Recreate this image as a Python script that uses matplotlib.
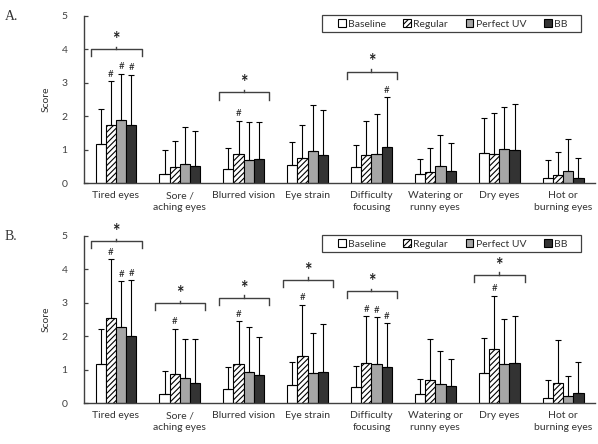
import matplotlib
matplotlib.use("Agg")
import matplotlib.pyplot as plt
from matplotlib.patches import Patch, Rectangle
import numpy as np

plt.rcParams['font.family'] = ['Lato', 'DejaVu Sans']
plt.rcParams['hatch.linewidth'] = 0.8

categories = ["Tired eyes", "Sore /\naching eyes", "Blurred vision", "Eye strain",
              "Difficulty\nfocusing", "Watering or\nrunny eyes", "Dry eyes", "Hot or\nburning eyes"]
series = ["Baseline", "Regular", "Perfect UV", "BB"]

# Panel A means and upper error-bar tops
A_mean = {
    "Baseline":   [1.17, 0.28, 0.42, 0.53, 0.49, 0.26, 0.91, 0.14],
    "Regular":    [1.74, 0.47, 0.87, 0.74, 0.84, 0.34, 0.87, 0.24],
    "Perfect UV": [1.90, 0.56, 0.69, 0.96, 0.87, 0.51, 1.03, 0.37],
    "BB":         [1.74, 0.51, 0.72, 0.84, 1.07, 0.37, 0.99, 0.16],
}
A_top = {
    "Baseline":   [2.22, 0.98, 1.06, 1.24, 1.13, 0.73, 1.94, 0.69],
    "Regular":    [3.05, 1.27, 1.87, 1.74, 1.85, 1.05, 2.11, 0.92],
    "Perfect UV": [3.27, 1.67, 1.84, 2.33, 2.07, 1.44, 2.27, 1.33],
    "BB":         [3.24, 1.57, 1.83, 2.19, 2.56, 1.21, 2.36, 0.75],
}
# Panel B
B_mean = {
    "Baseline":   [1.17, 0.28, 0.42, 0.53, 0.49, 0.26, 0.91, 0.14],
    "Regular":    [2.55, 0.86, 1.17, 1.40, 1.20, 0.70, 1.61, 0.60],
    "Perfect UV": [2.27, 0.74, 0.93, 0.89, 1.16, 0.56, 1.16, 0.20],
    "BB":         [2.02, 0.61, 0.84, 0.93, 1.07, 0.51, 1.21, 0.31],
}
B_top = {
    "Baseline":   [2.22, 0.97, 1.07, 1.24, 1.12, 0.73, 1.94, 0.69],
    "Regular":    [4.31, 2.23, 2.45, 2.94, 2.60, 1.91, 3.21, 1.89],
    "Perfect UV": [3.64, 1.91, 2.29, 2.10, 2.56, 1.57, 2.52, 0.82],
    "BB":         [3.67, 1.93, 1.97, 2.36, 2.39, 1.33, 2.61, 1.22],
}
# '#' markers: (category index, series name)
A_hash = [(0, "Regular"), (0, "Perfect UV"), (0, "BB"), (2, "Regular"), (4, "BB")]
B_hash = [(0, "Regular"), (0, "Perfect UV"), (0, "BB"), (1, "Regular"), (2, "Regular"),
          (3, "Regular"), (4, "Regular"), (4, "Perfect UV"), (4, "BB"), (6, "Regular")]
# '*' brackets: (category index, bracket height)
A_brackets = [(0, 4.0), (2, 2.71), (4, 3.33)]
B_brackets = [(0, 4.84), (1, 2.98), (2, 3.14), (3, 3.68), (4, 3.34), (6, 3.83)]

face = {"Baseline": "white", "Regular": "white", "Perfect UV": "#a6a6a6", "BB": "#333333"}
hatch = {"Baseline": None, "Regular": "//////", "Perfect UV": None, "BB": None}
axcol = "#404040"

fig = plt.figure(figsize=(5.98, 4.44), dpi=100)
axA = fig.add_axes([0.1405, 0.5878, 0.8545, 0.3762])
axB = fig.add_axes([0.1405, 0.0923, 0.8545, 0.3762])

w = 0.16
x = np.arange(len(categories))
offs = {s: (i - 1.5) * w for i, s in enumerate(series)}

def draw(ax, mean, top, hashes, brackets, label, label_y):
    for s in series:
        m = np.array(mean[s]); t = np.array(top[s])
        ax.bar(x + offs[s], m, w, color=face[s], edgecolor="black", linewidth=0.8,
               hatch=hatch[s], zorder=2)
        ax.errorbar(x + offs[s], m, yerr=[np.zeros_like(m), t - m], fmt="none",
                    ecolor="black", elinewidth=0.8, capsize=2, capthick=0.8, zorder=3)
    for ci, s in hashes:
        ax.text(ci + offs[s], top[s][ci] + 0.07, "#", ha="center", va="bottom",
                fontsize=7, color="#222222", clip_on=False)
    for ci, h in brackets:
        l, r = ci - 0.39, ci + 0.40
        ax.plot([l, l, r, r], [h - 0.21, h, h, h - 0.21], color=axcol, lw=1.0,
                clip_on=False, zorder=4)
        ax.plot([ci, ci], [h, h + 0.08], color=axcol, lw=1.0, clip_on=False)
        ax.text(ci, h + 0.04, "*", ha="center", va="bottom", fontsize=13,
                fontweight="bold", color="#222222", clip_on=False)
    ax.set_xlim(-0.5, len(categories) - 0.5)
    ax.set_ylim(0, 5)
    ax.set_yticks([0, 1, 2, 3, 4, 5])
    ax.set_xticks(x)
    ax.set_xticklabels(categories, fontsize=7.5, color="#333333", linespacing=1.35)
    ax.tick_params(axis="x", length=0, pad=6)
    ax.tick_params(axis="y", direction="in", length=3, width=0.9, colors=axcol,
                   labelsize=7.5, labelcolor="#404040", pad=12)
    for sp in ["top", "right"]:
        ax.spines[sp].set_visible(False)
    for sp in ["left", "bottom"]:
        ax.spines[sp].set_color(axcol)
        ax.spines[sp].set_linewidth(1.0)
    ax.set_ylabel("Score", fontsize=7.5, color="#333333", labelpad=8)
    handles = [Patch(facecolor=face[s], edgecolor="black", hatch=hatch[s], linewidth=0.8)
               for s in series]
    leg = ax.legend(handles, series, ncol=4, loc="center",
                    bbox_to_anchor=(0.721, 0.953), fontsize=7.5, frameon=False,
                    handlelength=0.75, handleheight=0.75,
                    handletextpad=0.2, columnspacing=1.7, borderpad=0.0,
                    borderaxespad=0)
    for t in leg.get_texts():
        t.set_color("#333333")
    ax.add_patch(Rectangle((0.466, 0.902), 0.507, 0.104, transform=ax.transAxes,
                           facecolor="white", edgecolor=axcol, linewidth=0.9,
                           clip_on=False, zorder=5))
    leg.set_zorder(6)
    fig.text(0.008, label_y, label, fontsize=10,
             family="Liberation Serif", color="#333333", va="center")

draw(axA, A_mean, A_top, A_hash, A_brackets, "A.", 1 - 16 / 444)
draw(axB, B_mean, B_top, B_hash, B_brackets, "B.", 1 - 236 / 444)

fig.savefig("out.png", dpi=100)
